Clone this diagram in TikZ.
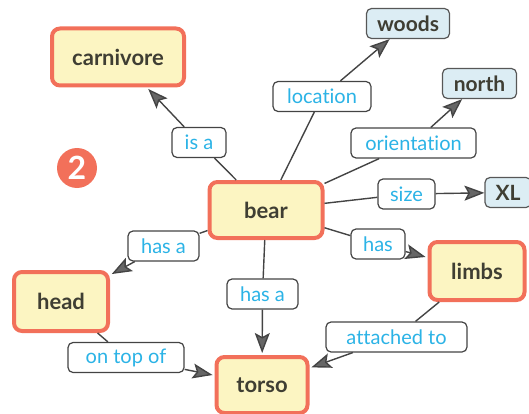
\documentclass[tikz,border=0pt]{standalone}
\usepackage{fontspec}
\setmainfont{Lato}[Ligatures=NoCommon]
\usetikzlibrary{arrows.meta}
\definecolor{coral}{HTML}{F2705A}
\definecolor{pale}{HTML}{FCF5C2}
\definecolor{iceblue}{HTML}{DCEDF4}
\definecolor{cyantext}{HTML}{2BB3E6}
\definecolor{darktext}{HTML}{3F3E33}
\definecolor{edgegray}{HTML}{444444}
\definecolor{tipgray}{HTML}{666666}
\tikzset{
  concept/.style={draw=coral, line width=4pt, fill=pale, rounded corners=8pt,
    font=\fontsize{22}{24}\selectfont\bfseries, text=darktext, inner sep=0pt},
  leaf/.style={draw=edgegray!90, line width=1.2pt, fill=iceblue, rounded corners=5pt,
    font=\fontsize{21}{24}\selectfont\bfseries, text=darktext, inner sep=0pt},
  lbl/.style={draw=edgegray, line width=1.2pt, fill=white, rounded corners=5pt,
    font=\fontsize{20}{23}\selectfont, text=cyantext, inner sep=0pt},
  link/.style={draw=edgegray, line width=1.4pt},
  arr/.style={link, -{Stealth[length=20pt,width=15pt,inset=4pt,fill=tipgray]}},
}
\begin{document}
\begin{tikzpicture}[x=1pt,y=-1pt]
\useasboundingbox (0,0) rectangle (529,414);
\clip (0,0) rectangle (529,414);
% concept nodes
\node[concept, minimum width=132, minimum height=57] (carnivore) at (118,57) {carnivore};
\node[concept, minimum width=113, minimum height=56] (bear) at (266,210) {bear};
\node[concept, minimum width=94, minimum height=59] (head) at (61,301.5) {head};
\node[concept, minimum width=95, minimum height=58] (limbs) at (477,271) {limbs};
\node[concept, minimum width=91, minimum height=56] (torso) at (262,385) {torso};
% leaf nodes
\node[leaf, minimum width=83, minimum height=30] (woods) at (408,23.5) {woods};
\node[leaf, minimum width=74, minimum height=30] (north) at (479.5,83.5) {north};
\node[leaf, minimum width=46, minimum height=30] (xl) at (508,192.5) {XL};
% number badge
\node[circle, fill=coral, minimum size=40, inner sep=0pt, text=white,
  font=\fontsize{32}{32}\selectfont\bfseries] (badge) at (77,168) {2};
% labels
\node[lbl, minimum width=54, minimum height=30] (isa) at (199,142.5) {is a};
\node[lbl, minimum width=98, minimum height=30] (location) at (322,96.5) {location};
\node[lbl, minimum width=125, minimum height=30] (orientation) at (413.5,143) {orientation};
\node[lbl, minimum width=57, minimum height=30] (size) at (406.5,194) {size};
\node[lbl, minimum width=71, minimum height=30] (hasaL) at (163.5,246) {has a};
\node[lbl, minimum width=71, minimum height=30] (hasaM) at (262.5,294) {has a};
\node[lbl, minimum width=54, minimum height=30] (has) at (378,244) {has};
\node[lbl, minimum width=116, minimum height=30] (ontop) at (126,357.5) {on top of};
\node[lbl, minimum width=141, minimum height=30] (attached) at (396.5,337) {attached to};
% connectors
\draw[link] (bear) -- (isa);
\draw[arr, shorten >=2pt] (isa) -- (carnivore);
\draw[link] (bear) -- (location);
\draw[arr] (location) -- (woods);
\draw[link] (bear) -- (orientation);
\draw[arr] (orientation) -- (north);
\draw[link] (bear) -- (size);
\draw[arr] (size) -- (xl);
\draw[link] (bear) -- (hasaL);
\draw[arr, shorten >=2pt] (hasaL) -- (head);
\draw[link] (bear) -- (hasaM);
\draw[arr, shorten >=2pt] (hasaM) -- (torso);
\draw[link] (bear) -- (has);
\draw[arr, shorten >=2pt] (has) -- (limbs);
\draw[link] (head) -- (ontop);
\draw[arr, shorten >=2pt] (ontop) -- (torso);
\draw[link] (limbs) -- (attached);
\draw[arr, shorten >=2pt] (attached) -- (torso);
\end{tikzpicture}
\end{document}
